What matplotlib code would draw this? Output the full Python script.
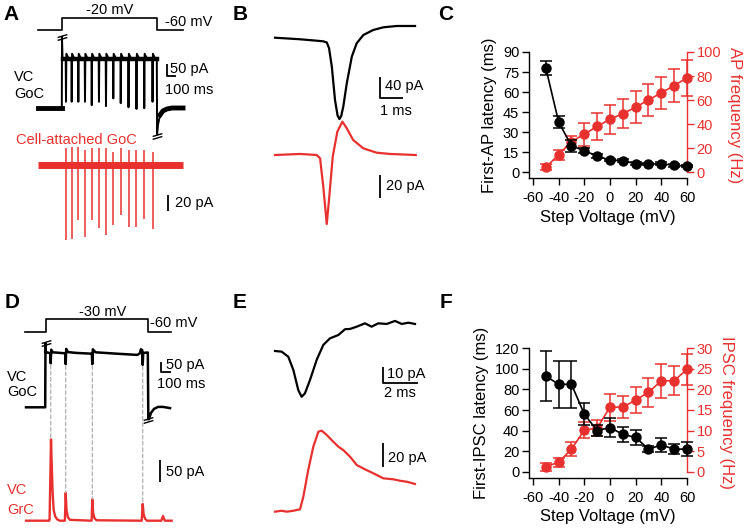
import matplotlib.pyplot as plt
from matplotlib.path import Path
from matplotlib.patches import ConnectionPatch

W, H = 744, 531
RED = '#E8312F'
plt.rcParams['font.family'] = ['Liberation Sans', 'DejaVu Sans']
plt.rcParams['axes.unicode_minus'] = False

# ---------------- summary data (panels C, F) ----------------
volt = [-50, -40, -30, -20, -10, 0, 10, 20, 30, 40, 50, 60]
ap_latency = [78, 37.5, 19.6, 16, 12, 9, 8.5, 6.2, 6, 6.2, 5, 4.5]
ap_latency_err = [5, 4.2, 4.5, 2, 1.5, 1, 1, 1, 1, 1, 1, 1]
ap_freq = [3.9, 14.4, 25.4, 31.5, 38, 44, 48.6, 54, 60, 66, 72, 78.5]
ap_freq_err = [2.5, 4, 4.5, 9.5, 11, 12, 12, 13.5, 13.7, 13.5, 14, 15]
ipsc_latency = [93, 85, 85, 56, 40, 43, 36.3, 33.4, 22, 26, 22, 22]
ipsc_latency_err = [24.5, 23, 23, 10.5, 5, 9.5, 7, 7, 3, 7, 5, 7]
ipsc_freq = [1.2, 2.3, 5.5, 10.1, 10.6, 15.7, 15.7, 17.4, 19.3, 22.1, 22.1, 24.9]
ipsc_freq_err = [1, 1.1, 1.8, 2, 1.9, 3.3, 2.7, 3.2, 3.5, 4.2, 3.5, 3.8]

# ---------------- panel A traces (ms, mV / pA) ----------------
cmd_a_t = [-253, 0, 0, 1000, 1000, 1274]
cmd_a_mv = [-60, -60, -20, -20, -60, -60]
spk_a_t = [42, 102, 172, 242, 313, 389, 463, 540, 618, 700, 784, 866, 953]
spk_a_vc = [26, 26, 26, 26, 12, 26, 8, 40, 20, 3, -4, -1, 26]
spk_a_ca_lo = [-94, -93, -69, -90, -69, -79, -87, -75, -62, -77, -78, -67, -80]
spk_a_ca_hi = [21, 23, 23, 19, 21, 21, 21, 16, 21, 19, 19, 19, 16]
vc_a_plateau = 200
vc_a_bump = 226
vc_a_on = 297
vc_a_off_t = [998, 1001, 1010, 1032, 1063, 1105, 1158, 1274]
vc_a_off_i = [200, -110, -71, -29, -12, -4, 0, 0]

# ---------------- panel B traces (ms, pA) ----------------
b_vc_t = [0, 1.09, 1.81, 2.1, 2.25, 2.35, 2.47, 2.61, 2.72, 2.8, 2.88, 2.97, 3.12, 3.34,
          3.55, 3.84, 4.27, 4.71, 5.29, 6.09]
b_vc_i = [0, -3, -5.7, -6.9, -9, -20, -55, -119, -148, -155, -149, -131, -87, -36,
          -10.7, 5.1, 14.7, 19.8, 22.3, 22.3]
b_ca_t = [0, 1.09, 1.81, 1.96, 2.1, 2.25, 2.36, 2.51, 2.71, 2.93, 3.12, 3.4, 3.84,
          4.42, 5.0, 6.12]
b_ca_i = [0, 0.9, 0, -2.9, -27.6, -60, -36.3, -1.5, 20.3, 29, 23.2, 13, 5.8, 2, 0.9, 0]

# ---------------- panel D traces (ms, mV / pA) ----------------
cmd_d_t = [-201, 0, 0, 1005, 1005, 1230]
cmd_d_mv = [-60, -60, -30, -30, -60, -60]
vc_d_t = [-191, -3, 0, 4, 20, 46, 51, 56, 70, 193, 198, 203, 220, 300, 454, 459, 464,
          490, 700, 900, 925, 935, 948, 953, 958, 1003, 1008, 1015, 1034, 1064, 1103,
          1152, 1221]
vc_d_i = [0, 0, 320, 272, 274, 270, 220, 288, 275, 270, 216, 292, 276, 272, 268, 216,
          290, 275, 268, 262, 270, 290, 286, 212, 272, 274, -60, -58, -28, -8, 2, 2, -4]
grc_d_t = [-191, 35, 40, 54, 62, 70, 80, 95, 115, 140, 190, 198, 206, 220, 240, 452,
           459, 467, 480, 500, 943, 953, 962, 975, 995, 1135, 1152, 1170, 1237]
grc_d_i = [0, 0, 2, 189, 125, 65, 25, 10, 3, 0, 0, 65, 25, 8, 2, 0, 50, 18, 6, 1, 0,
           39, 15, 5, 0, 0, 11, 0, 0]
evt_d_t = [51, 198, 459, 953]
evt_d_goc = [220, 216, 216, 212]
evt_d_grc = [189, 65, 50, 39]

# ---------------- panel E traces (ms, pA) ----------------
e_vc_t = [0, 0.38, 0.76, 1.05, 1.33, 1.52, 1.71, 2.0, 2.38, 2.76, 3.14, 3.62, 4.0,
          4.29, 4.67, 5.14, 5.52, 5.9, 6.38, 6.86, 7.24, 7.62, 8.0]
e_vc_i = [0, -0.4, -3.6, -11.9, -24.4, -28.6, -26.5, -18.1, -5.6, 3.8, 7.9, 10, 13.6,
          13.8, 15.2, 17.3, 15.2, 17.3, 16.9, 18.8, 16.9, 17.7, 16.9]
e_grc_t = [0, 0.38, 0.67, 1.05, 1.43, 1.62, 1.9, 2.19, 2.48, 2.67, 2.95, 3.33, 3.62,
           3.9, 4.29, 4.67, 5.14, 5.62, 6.19, 6.76, 7.14, 7.52, 8.0]
e_grc_i = [0, 0.8, 0, 0.8, 2, 12.5, 34.8, 54.2, 66.7, 67.5, 64, 58.3, 54.2, 51.4,
           45.8, 38.9, 35.3, 32, 27.8, 27, 25.8, 25, 23.1]

fig = plt.figure(figsize=(7.44, 5.31), dpi=100)


def px_axes(x0, y0, x1, y1):
    return fig.add_axes([x0 / W, 1 - y1 / H, (x1 - x0) / W, (y1 - y0) / H])


def trace_axes(px, py, x0, y0, sx, sy):
    # invisible full-figure axes: data point (x0, y0) sits at pixel (px, py)
    ax = fig.add_axes([0, 0, 1, 1])
    ax.set_xlim(x0 - px / sx, x0 + (W - px) / sx)
    ax.set_ylim(y0 - (H - py) / sy, y0 + py / sy)
    ax.axis('off')
    return ax


def ftext(x, y, s, color='k', size=10.5, **kw):
    fig.text(x / W, 1 - y / H, s, color=color, fontsize=size, va='center', **kw)


def scalebar(ax, x, y, dy, dx=0, color='k'):
    ax.plot([x, x, x + dx], [y + dy, y, y], color=color, lw=1.3, solid_capstyle='butt')


brk = Path([(-1, -0.6), (1, 0.0), (-1, 0.0), (1, 0.6)],
           [Path.MOVETO, Path.LINETO, Path.MOVETO, Path.LINETO])


def breakmark(ax, x, y):
    ax.plot([x], [y], ls='none', marker=brk, ms=7, mew=1, mec='k', mfc='none')


# ---------------- A ----------------
ax = trace_axes(62, 30, 0, -60, 0.095, 0.3)
ax.plot(cmd_a_t, cmd_a_mv, color='k', lw=1.2)

ax = trace_axes(62, 108, 0, 0, 0.095, 0.24)
t = [cmd_a_t[0], -2, 0, 6]
i = [0, 0, vc_a_on, vc_a_plateau]
for s, d in zip(spk_a_t, spk_a_vc):
    t += [s - 3, s, s + 4, s + 25]
    i += [vc_a_plateau, d, vc_a_bump, vc_a_plateau + 8]
t += vc_a_off_t
i += vc_a_off_i
ax.plot(t, i, color='k', lw=1.4)
ax.plot([cmd_a_t[0], -1], [0, 0], color='k', lw=3.5)
ax.plot([6, 996], [vc_a_plateau + 4, vc_a_plateau + 4], color='k', lw=3.2)
ax.plot(vc_a_off_t[3:], vc_a_off_i[3:], color='k', lw=3.5)
breakmark(ax, 0, vc_a_on)
breakmark(ax, 1001, vc_a_off_i[1] - 6)
scalebar(ax, 1102, 133, 50, 100)

ax = trace_axes(62, 165, 0, 0, 0.095, 0.8)
ax.plot([cmd_a_t[0], cmd_a_t[-1]], [0, 0], color=RED, lw=5, solid_capstyle='butt')
ax.vlines(spk_a_t, spk_a_ca_lo, spk_a_ca_hi, color=RED, lw=1.1)
scalebar(ax, 1116, -57.5, 20)

ftext(3, 15, 'A', size=15, weight='bold')
ftext(110, 10, '-20 mV', ha='center')
ftext(165, 22, '-60 mV')
ftext(14, 77, 'VC')
ftext(14, 94, 'GoC')
ftext(170, 69, '50 pA')
ftext(165, 90, '100 ms')
ftext(16, 140, 'Cell-attached GoC', color=RED)
ftext(175, 203, '20 pA')

# ---------------- B ----------------
ax = trace_axes(275, 37.7, 0, 0, 23, 0.525)
ax.plot(b_vc_t, b_vc_i, color='k', lw=1.6)
scalebar(ax, 4.57, -115, 40, 1)
ax = trace_axes(275, 155, 0, 0, 23, 1.15)
ax.plot(b_ca_t, b_ca_i, color=RED, lw=1.6)
scalebar(ax, 4.57, -37.4, 20)
ftext(233, 15, 'B', size=15, weight='bold')
ftext(385, 86, '40 pA')
ftext(380, 111, '1 ms')
ftext(386, 186, '20 pA')

# ---------------- D ----------------
ax = trace_axes(45.5, 331.7, 0, -60, 0.102, 0.413)
ax.plot(cmd_d_t, cmd_d_mv, color='k', lw=1.2)

ax_goc = trace_axes(45.5, 407.3, 0, 0, 0.102, 0.2)
ax_goc.plot(vc_d_t, vc_d_i, color='k', lw=1.8)
breakmark(ax_goc, 0, 320)
breakmark(ax_goc, 1008, -64)
scalebar(ax_goc, 1132, 176, 50, 100)

ax_grc = trace_axes(45.5, 520.7, 0, 0, 0.102, 0.43)
ax_grc.plot(grc_d_t, grc_d_i, color=RED, lw=1.7)
scalebar(ax_grc, 1123, 91, 50)
for tt, g1, g2 in zip(evt_d_t, evt_d_goc, evt_d_grc):
    con = ConnectionPatch((tt, g1 - 8), (tt, g2), coordsA='data', coordsB='data',
                          axesA=ax_goc, axesB=ax_grc, color='#b0b0b0', lw=0.9, ls=(0, (3, 2)))
    fig.add_artist(con)

ftext(5, 302, 'D', size=15, weight='bold')
ftext(103, 312, '-30 mV', ha='center')
ftext(150, 323, '-60 mV')
ftext(7, 377, 'VC')
ftext(7, 392, 'GoC')
ftext(166, 365, '50 pA')
ftext(157, 384, '100 ms')
ftext(166, 472, '50 pA')
ftext(7, 490, 'VC', color=RED)
ftext(7, 510, 'GrC', color=RED)

# ---------------- E ----------------
ax = trace_axes(275, 351, 0, 0, 17.5, 1.6)
ax.plot(e_vc_t, e_vc_i, color='k', lw=1.6)
scalebar(ax, 6.17, -20, 10, 2)
ax = trace_axes(275, 511.7, 0, 0, 17.5, 1.2)
ax.plot(e_grc_t, e_grc_i, color=RED, lw=1.6)
scalebar(ax, 6.17, 37.3, 20)
ftext(233, 302, 'E', size=15, weight='bold')
ftext(387, 374, '10 pA')
ftext(400, 393, '2 ms', ha='center')
ftext(388, 458, '20 pA')


# ---------------- C, F ----------------
def summary_panel(box, lat, lat_err, freq, freq_err, lat_lim, lat_ticks,
                  freq_lim, freq_ticks, lat_label, freq_label):
    ax = px_axes(*box)
    ax2 = ax.twinx()
    style = dict(marker='o', ms=6.5, lw=1.2, elinewidth=1.1, capsize=4, capthick=1.1,
                 clip_on=False)
    ax2.errorbar(volt, freq, yerr=freq_err, color=RED, **style)
    ax.errorbar(volt, lat, yerr=lat_err, color='k', **style)
    ax.set_zorder(ax2.get_zorder() + 1)
    ax.patch.set_visible(False)
    ax.set_xlim(-63.1, 60)
    ax.set_xticks(range(-60, 61, 20))
    ax.set_ylim(*lat_lim)
    ax.set_yticks(lat_ticks)
    ax2.set_ylim(*freq_lim)
    ax2.set_yticks(freq_ticks)
    for s in ('top', 'right'):
        ax.spines[s].set_visible(False)
    for s in ('top', 'left', 'bottom'):
        ax2.spines[s].set_visible(False)
    ax2.spines['right'].set_color(RED)
    ax2.spines['right'].set_bounds(0, freq_lim[1])
    for a in (ax, ax2):
        for sp in a.spines.values():
            sp.set_linewidth(1)
    ax.tick_params(direction='out', length=5, width=1, labelsize=10.5, pad=2)
    ax.tick_params(axis='x', pad=4.5)
    ax2.tick_params(direction='out', length=5, width=1, labelsize=10.5, pad=2, colors=RED)
    ax.set_xlabel('Step Voltage (mV)', fontsize=12, labelpad=3)
    ax.set_ylabel(lat_label, fontsize=12, labelpad=4)
    ax2.set_ylabel(freq_label, fontsize=12, color=RED, rotation=270, va='bottom', labelpad=4)
    return ax


summary_panel((529, 52, 687, 178.3), ap_latency, ap_latency_err, ap_freq, ap_freq_err,
              (-4.7, 90), range(0, 91, 15), (-5.25, 100), range(0, 101, 20),
              'First-AP latency (ms)', 'AP frequency (Hz)')
summary_panel((529, 348.3, 687, 477.7), ipsc_latency, ipsc_latency_err, ipsc_freq,
              ipsc_freq_err, (-5.8, 120), range(0, 121, 20), (-1.46, 30), range(0, 31, 5),
              'First-IPSC latency (ms)', 'IPSC frequency (Hz)')
ftext(438, 15, 'C', size=15, weight='bold')
ftext(440, 303, 'F', size=15, weight='bold')

fig.savefig('out.png', dpi=100)
